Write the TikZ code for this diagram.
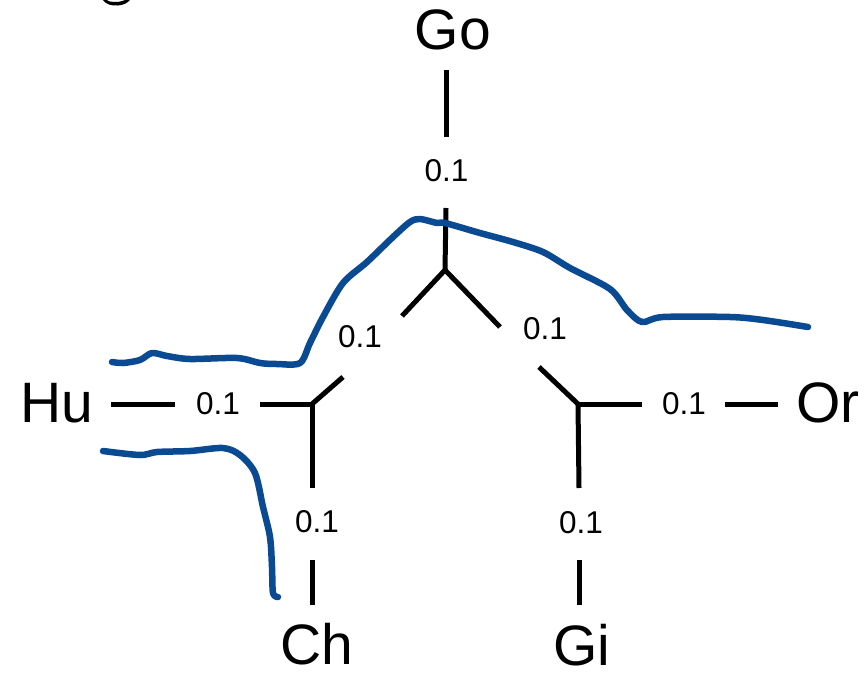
\documentclass[tikz,border=0pt]{standalone}
\usepackage{fontspec}
\setmainfont{Liberation Sans}
\definecolor{penblue}{HTML}{0A4A93}
\begin{document}
\begin{tikzpicture}[x=1pt,y=-1pt,
  branch/.style={line width=5pt, line cap=butt, line join=miter},
  taxon/.style={font=\fontsize{57}{60}\selectfont, inner sep=0pt, anchor=base},
  blen/.style={font=\fontsize{31.5}{34}\selectfont, inner sep=0pt},
  pen/.style={draw=penblue, line width=6.5pt, line cap=round, line join=round}]
\useasboundingbox (0,0) rectangle (867,672);
% cropped glyph fragment at top left
\fill (103,0) .. controls (106,4.5) and (112,6) .. (118,5.5) .. controls (124,5) and (128,2.5) .. (130,0) -- (125,0) .. controls (121,2) and (115,2.5) .. (110,1.5) .. controls (108,1) and (107.5,0.5) .. (107,0) -- cycle;
% taxa
\node[taxon] (go) at (453,49) {Go};
\node[taxon] (hu) at (56.5,422) {Hu};
\node[taxon] (or) at (828,422) {Or};
\node[taxon] (ch) at (317,664) {Ch};
\node[taxon] (gi) at (582,665) {Gi};
% branch length labels
\node[blen] (l1) at (446.5,171) {0.1};
\node[blen] (l2) at (360,337) {0.1};
\node[blen] (l3) at (545,329) {0.1};
\node[blen] (l4) at (218,404) {0.1};
\node[blen] (l5) at (317,522) {0.1};
\node[blen] (l6) at (684,404) {0.1};
\node[blen] (l7) at (581,523) {0.1};
% junctions and segment ends
\coordinate (jt) at (445,270);
\coordinate (jl) at (312,404);
\coordinate (jr) at (578,404);
\coordinate (go1) at (446,70);
\coordinate (go2) at (446,137);
\coordinate (go3) at (446,208);
\coordinate (dl1) at (402,316);
\coordinate (dl2) at (343,377);
\coordinate (dr1) at (500,327);
\coordinate (dr2) at (539,367);
\coordinate (hu1) at (111,404);
\coordinate (hu2) at (175,404);
\coordinate (hu3) at (260,404);
\coordinate (ch1) at (312,488);
\coordinate (ch2) at (312,560);
\coordinate (ch3) at (312,605);
\coordinate (or1) at (642,404);
\coordinate (or2) at (725,404);
\coordinate (or3) at (778,404);
\coordinate (gi1) at (579,488);
\coordinate (gi2) at (579,560);
\coordinate (gi3) at (579,605);
% tree
\draw[branch] (go1) -- (go2);
\draw[branch] (go3) -- (jt);
\draw[branch] (dl1) -- (jt) -- (dr1);
\draw[branch] (dl2) -- (jl);
\draw[branch] (dr2) -- (jr);
\draw[branch] (hu1) -- (hu2);
\draw[branch] (hu3) -- (jl) -- (ch1);
\draw[branch] (ch2) -- (ch3);
\draw[branch] (jr) -- (or1);
\draw[branch] (or2) -- (or3);
\draw[branch] (jr) -- (gi1);
\draw[branch] (gi2) -- (gi3);
% hand-drawn blue strokes
\draw[pen] plot[smooth, tension=0.5] coordinates {(112,362) (123,363) (140,360) (152,353) (167,356) (190,359) (237,358) (260,363) (277,364) (300,363) (310,343) (323,317) (343,283) (367,262) (393,237) (410,222) (420,219) (437,223) (445,223) (480,233) (513,242) (543,252) (570,268) (610,289) (627,310) (642,322) (663,317) (730,317) (763,320) (808,327)};
\draw[pen] plot[smooth, tension=0.5] coordinates {(103,451) (140,455) (157,452) (190,451) (223,448) (240,455) (255,473) (263,507) (270,537) (272,567) (273,593) (278,597)};
\end{tikzpicture}
\end{document}
